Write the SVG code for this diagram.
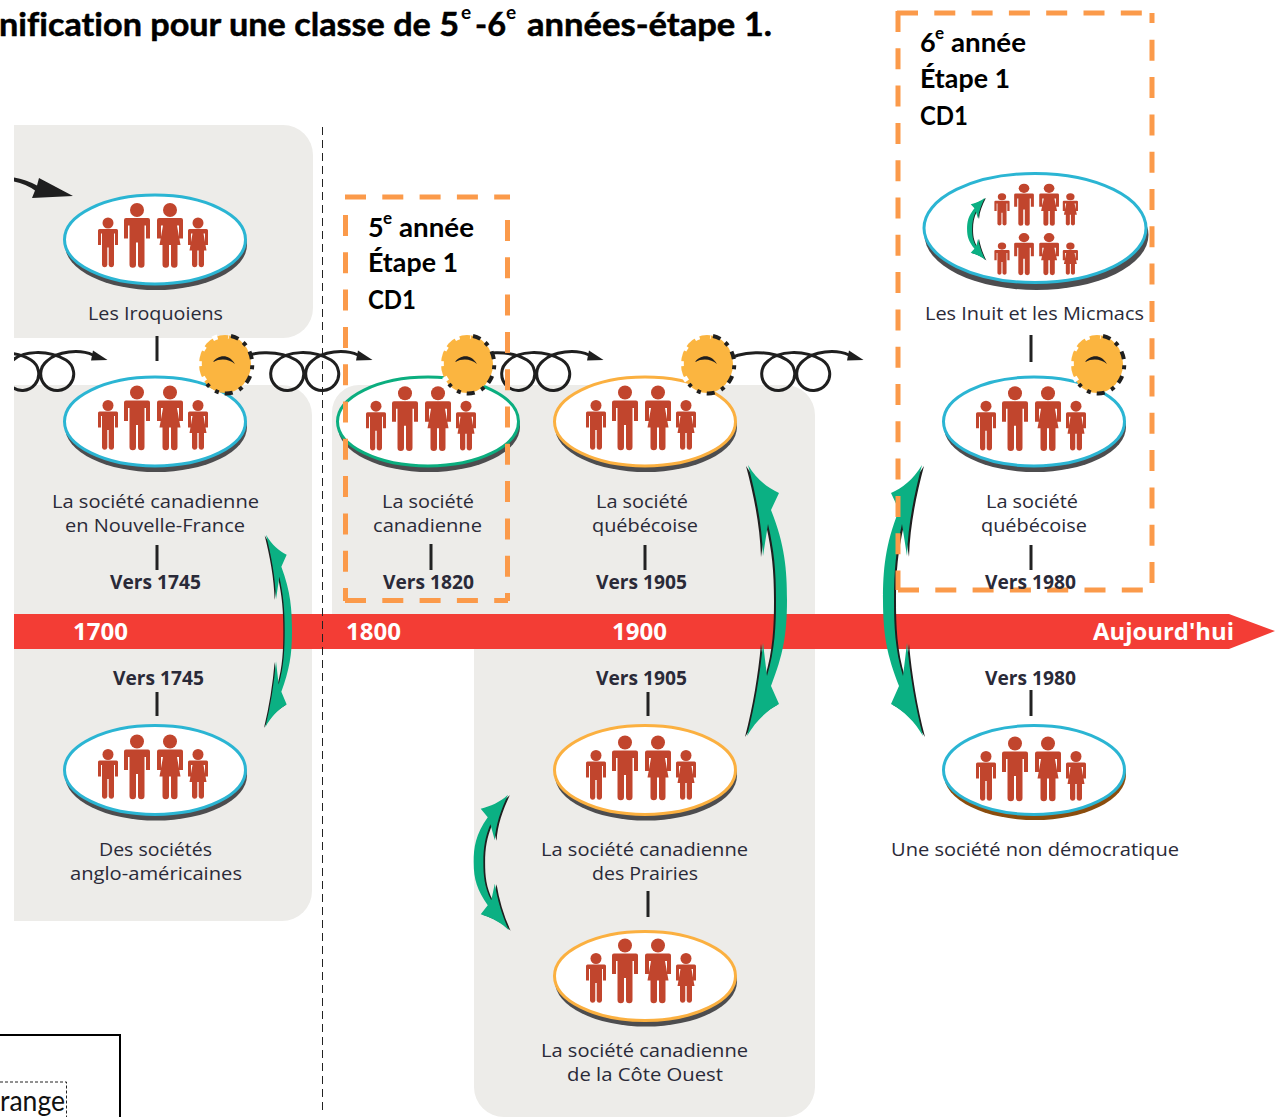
<svg xmlns="http://www.w3.org/2000/svg" width="1275" height="1117" viewBox="0 0 1275 1117">
<style>
text{font-family:"Open Sans","Noto Sans","Liberation Sans",sans-serif;fill:#2a2a38;font-size:19px;font-variant-ligatures:none}
.b{font-weight:700}
.c{font-family:Lato,"Liberation Sans",sans-serif;font-weight:700;fill:#000;font-size:27px}
.t{font-size:33px;stroke:#000;stroke-width:.5px}
.s{font-family:Lato,"Liberation Sans",sans-serif;font-weight:700;fill:#000;font-size:17px}
.st{font-size:19px}
.w{font-weight:700;fill:#fff;font-size:24px}
.tick{stroke:#222;stroke-width:3;fill:none}
.or{fill:none;stroke:#fb9a4a;stroke-width:5;stroke-dasharray:21 16.3}
.loop{fill:none;stroke:#1f1f1f;stroke-width:3}
.sh{fill:#4d4d4f}
.e{fill:#fff;stroke-width:3}
.bl{stroke:#2bb5d3}.ye{stroke:#fbb040}.gr{stroke:#0bae7f}
.pn{fill:#edece9}
.p{fill:#c1452d}
.ar{fill:#0bb083}
.as{fill:#1f1f1f}
</style>
<defs>
<g id="fam" class="p">
<circle cx="-47" cy="-16.5" r="5.5"/>
<path transform="translate(-47,0)" d="M-8.5,-10.5H8.5A1.5,1.5 0 0 1 10,-9V5.5H7V-6H6V25.5A2.7,2.7 0 0 1 .7,25.5V8H-.7V25.5A2.7,2.7 0 0 1 -6,25.5V-6H-7V5.5H-10V-9A1.5,1.5 0 0 1 -8.5,-10.5Z"/>
<circle cx="-18" cy="-29.5" r="7"/>
<path transform="translate(-18,0)" d="M-11,-21.5H11A2,2 0 0 1 13,-19.5V-1H9V-14H7.5V25A3,3 0 0 1 1,25V3H-1V25A3,3 0 0 1 -7.5,25V-14H-9V-1H-13V-19.5A2,2 0 0 1 -11,-21.5Z"/>
<circle cx="15" cy="-29.5" r="7"/>
<path transform="translate(15,0)" d="M-11,-21.5H11A2,2 0 0 1 13,-19.5V-1H9V-14H7L10.5,5.5H7.5V25A3,3 0 0 1 1,25V5.5H-1V25A3,3 0 0 1 -7.5,25V5.5H-10.5L-7,-14H-9V-1H-13V-19.5A2,2 0 0 1 -11,-21.5Z"/>
<circle cx="43" cy="-16.5" r="5.5"/>
<path transform="translate(43,0)" d="M-8.5,-10.5H8.5A1.5,1.5 0 0 1 10,-9V5.5H7V-6H5.5L8.5,11H6V25.5A2.7,2.7 0 0 1 .7,25.5V11H-.7V25.5A2.7,2.7 0 0 1 -6,25.5V11H-8.5L-5.5,-6H-7V5.5H-10V-9A1.5,1.5 0 0 1 -8.5,-10.5Z"/>
</g>
<g id="gear">
<ellipse rx="26" ry="29" fill="#fbb540"/>
<path d="M-20,17A24.500,27.500 0 0 1 4,-27.500" fill="none" stroke="#fff" stroke-width="5" stroke-dasharray="5 11"/>
<path transform="translate(2,1)" d="M4,-29A26,29 0 1 1 -20,19" fill="none" stroke="#1f1f1f" stroke-width="4" stroke-dasharray="8 6 4 7"/>
<path d="M-12,-2C-8,-8 3,-12 10,0C4,-5 -4,-6 -12,-2Z" fill="#1f1f1f"/>
</g>
<g id="coil">
<path class="loop" d="M232,362C250,350 280,350 296,360A16.500,16.500 0 1 1 277,361C287,351 312,349 331,360A16.500,16.500 0 1 1 312,361C322,351 345,349 358,355"/>
<path d="M358,350.500L372.500,360L356,360.500Z" fill="#1f1f1f"/>
</g>
<g id="arrow">
<path class="as" transform="translate(-2,1)" d="M748,465C757,480 768,488 779,493L771,510C785,545 787,570 787,600C787,635 783,655 771,686L779,704C766,711 755,722 747,736C755,705 760,675 763,643L767,676C775,650 776,625 776,600C776,570 774,550 768,524L763,556C762,525 756,495 748,465Z"/>
<path class="ar" d="M748,465C757,480 768,488 779,493L771,510C785,545 787,570 787,600C787,635 783,655 771,686L779,704C766,711 755,722 747,736C755,705 760,675 763,643L767,676C775,650 776,625 776,600C776,570 774,550 768,524L763,556C762,525 756,495 748,465Z"/>
</g>
<clipPath id="cl"><rect x="14" y="330" width="400" height="70"/></clipPath>
</defs>

<rect width="1275" height="1117" fill="#fff"/>

<g id="panels">
<path class="pn" d="M14,125H283A30,30 0 0 1 313,155V308A30,30 0 0 1 283,338H14Z"/>
<path class="pn" d="M14,385H282A30,30 0 0 1 312,415V891A30,30 0 0 1 282,921H14Z"/>
<path class="pn" d="M332,614V412A27,27 0 0 1 359,385H785A30,30 0 0 1 815,415V1087A30,30 0 0 1 785,1117H504A30,30 0 0 1 474,1087V614Z"/>
</g>

<g id="timeline">
<path d="M14,614H1229L1275,631L1229,649H14Z" fill="#f33d35"/>
<text class="w" x="73" y="640" textLength="55" lengthAdjust="spacingAndGlyphs">1700</text>
<text class="w" x="346" y="640" textLength="55" lengthAdjust="spacingAndGlyphs">1800</text>
<text class="w" x="612" y="640" textLength="55" lengthAdjust="spacingAndGlyphs">1900</text>
<text class="w" x="1093" y="640" textLength="141" lengthAdjust="spacingAndGlyphs">Aujourd'hui</text>
</g>

<path id="divider" d="M322.500,127V1112" fill="none" stroke="#222" stroke-width="1" stroke-dasharray="8 5"/>

<g id="connectors">
<g clip-path="url(#cl)"><use href="#coil" x="-265"/></g>
<use href="#coil"/>
<use href="#coil" x="231"/>
<use href="#coil" x="491"/>
<path class="tick" d="M157,336V361M157,545V570M157,692V716M431,544V570M645,545V570M648,692V716M648,891V917M1031,335V362M1031,545V570M1031,690V716"/>
<path d="M14,181.500Q26,184 35,190.500L32,198L73,196L39,178L37,185.500Q26,179.500 14,177.500Z" fill="#1f1f1f"/>
<use href="#arrow" transform="translate(266,631) scale(.667,.71) translate(-748,-600.500)"/>
<use href="#arrow"/>
<use href="#arrow" transform="translate(1670,0) scale(-1,1)"/>
<use href="#arrow" transform="translate(508,862.500) scale(-.88,.5) translate(-748,-600.500)"/>
</g>

<g id="n-iroquoiens"><ellipse class="sh" cx="156" cy="245" rx="91" ry="45"/><ellipse class="e bl" cx="155" cy="239.500" rx="90.500" ry="44.500"/><use href="#fam" x="155" y="239.500"/>
<text x="88" y="320" textLength="135" lengthAdjust="spacingAndGlyphs">Les Iroquoiens</text></g>

<g id="n-nouvelle-france"><ellipse class="sh" cx="156" cy="427" rx="91" ry="45"/><ellipse class="e bl" cx="155" cy="421.500" rx="90.500" ry="44.500"/><use href="#fam" x="155" y="422"/>
<text x="52" y="508" textLength="207" lengthAdjust="spacingAndGlyphs">La société canadienne</text>
<text x="65" y="532" textLength="180" lengthAdjust="spacingAndGlyphs">en Nouvelle-France</text>
<text class="b" x="110" y="589" textLength="91" lengthAdjust="spacingAndGlyphs">Vers 1745</text></g>

<g id="n-anglo"><text class="b" x="113" y="685" textLength="91" lengthAdjust="spacingAndGlyphs">Vers 1745</text>
<ellipse class="sh" cx="156" cy="775.500" rx="91" ry="45"/><ellipse class="e bl" cx="155" cy="770" rx="90.500" ry="44.500"/><use href="#fam" x="155" y="771"/>
<text x="99" y="856" textLength="113" lengthAdjust="spacingAndGlyphs">Des sociétés</text>
<text x="70" y="880" textLength="172" lengthAdjust="spacingAndGlyphs">anglo-américaines</text></g>

<g id="n-canadienne"><ellipse class="sh" cx="429" cy="427" rx="91" ry="45"/><ellipse class="e gr" cx="428" cy="421.500" rx="90.500" ry="44.500"/><use href="#fam" x="423" y="422.700"/>
<text x="382" y="508" textLength="92" lengthAdjust="spacingAndGlyphs">La société</text>
<text x="373" y="532" textLength="109" lengthAdjust="spacingAndGlyphs">canadienne</text>
<text class="b" x="383" y="589" textLength="91" lengthAdjust="spacingAndGlyphs">Vers 1820</text></g>

<g id="n-quebecoise-1905"><ellipse class="sh" cx="646" cy="427" rx="91" ry="45"/><ellipse class="e ye" cx="645" cy="421.500" rx="90.500" ry="44.500"/><use href="#fam" x="643" y="422"/>
<text x="596" y="508" textLength="92" lengthAdjust="spacingAndGlyphs">La société</text>
<text x="592" y="532" textLength="106" lengthAdjust="spacingAndGlyphs">québécoise</text>
<text class="b" x="596" y="589" textLength="91" lengthAdjust="spacingAndGlyphs">Vers 1905</text></g>

<g id="n-prairies"><text class="b" x="596" y="685" textLength="91" lengthAdjust="spacingAndGlyphs">Vers 1905</text>
<ellipse class="sh" cx="646" cy="775.500" rx="91" ry="45"/><ellipse class="e ye" cx="645" cy="770" rx="90.500" ry="44.500"/><use href="#fam" x="643" y="772"/>
<text x="541" y="856" textLength="207" lengthAdjust="spacingAndGlyphs">La société canadienne</text>
<text x="592" y="880" textLength="106" lengthAdjust="spacingAndGlyphs">des Prairies</text></g>

<g id="n-cote-ouest"><ellipse class="sh" cx="646" cy="981.500" rx="91" ry="45"/><ellipse class="e ye" cx="645" cy="976" rx="90.500" ry="44.500"/><use href="#fam" x="643" y="975"/>
<text x="541" y="1057" textLength="207" lengthAdjust="spacingAndGlyphs">La société canadienne</text>
<text x="567" y="1081" textLength="156" lengthAdjust="spacingAndGlyphs">de la Côte Ouest</text></g>

<g id="n-inuit"><ellipse class="sh" cx="1036.500" cy="235" rx="112" ry="55"/><ellipse class="e bl" cx="1035" cy="228" rx="111" ry="54.500"/>
<use href="#fam" transform="translate(1037.700,207.500) scale(.76,.65)"/>
<use href="#fam" transform="translate(1037.700,256.800) scale(.76,.65)"/>
<use href="#arrow" transform="translate(985,229) scale(-.46,.23) translate(-748,-600.500)"/>
<text x="925" y="320" textLength="219" lengthAdjust="spacingAndGlyphs">Les Inuit et les Micmacs</text></g>

<g id="n-quebecoise-1980"><ellipse class="sh" cx="1035" cy="427" rx="91" ry="45"/><ellipse class="e bl" cx="1034" cy="421.500" rx="90.500" ry="44.500"/><use href="#fam" x="1033" y="422.700"/>
<text x="986" y="508" textLength="92" lengthAdjust="spacingAndGlyphs">La société</text>
<text x="981" y="532" textLength="106" lengthAdjust="spacingAndGlyphs">québécoise</text></g>

<g id="n-non-democratique"><text class="b" x="985" y="685" textLength="91" lengthAdjust="spacingAndGlyphs">Vers 1980</text>
<ellipse cx="1035" cy="775" rx="91" ry="45" fill="#8a4d0e"/><ellipse class="e bl" cx="1034" cy="770" rx="90.500" ry="44.500"/><use href="#fam" x="1033" y="773"/>
<text x="891" y="856" textLength="288" lengthAdjust="spacingAndGlyphs">Une société non démocratique</text></g>

<g id="gears">
<use href="#gear" x="225" y="364"/>
<use href="#gear" x="467" y="364"/>
<use href="#gear" x="707" y="364"/>
<use href="#gear" x="1097" y="364"/>
</g>

<g id="box-5e">
<path class="or" d="M345.500,215V601M345,600.500H508M507.500,220V601M345,197H510"/>
<text class="c" x="368" y="237">5</text><text class="s" x="383" y="224">e</text>
<text class="c" x="399" y="237" textLength="75" lengthAdjust="spacingAndGlyphs">année</text>
<text class="c" x="368" y="272" textLength="90" lengthAdjust="spacingAndGlyphs">Étape 1</text>
<text class="c" x="368" y="309" textLength="48" lengthAdjust="spacingAndGlyphs">CD1</text>
</g>

<g id="box-6e">
<path class="or" d="M898,11V590M898,590H1152M1152,13V23M1152,39.800V590M897,13H1154"/>
<text class="c" x="920" y="52">6</text><text class="s" x="935" y="39">e</text>
<text class="c" x="951" y="52" textLength="75" lengthAdjust="spacingAndGlyphs">année</text>
<text class="c" x="920" y="88" textLength="90" lengthAdjust="spacingAndGlyphs">Étape 1</text>
<text class="c" x="920" y="125" textLength="48" lengthAdjust="spacingAndGlyphs">CD1</text>
<text class="b" x="985" y="589" textLength="91" lengthAdjust="spacingAndGlyphs">Vers 1980</text>
</g>

<g id="title">
<text class="c t" x="-1" y="36" textLength="460" lengthAdjust="spacingAndGlyphs">nification pour une classe de 5</text>
<text class="s st" x="461" y="19">e</text>
<text class="c t" x="475" y="36" textLength="31" lengthAdjust="spacingAndGlyphs">-6</text>
<text class="s st" x="506" y="19">e</text>
<text class="c t" x="527" y="36" textLength="245" lengthAdjust="spacingAndGlyphs">années-étape 1.</text>
</g>

<g id="legend">
<path d="M0,1035H120V1117" fill="none" stroke="#000" stroke-width="2"/>
<path d="M0,1082H66.500V1117" fill="none" stroke="#222" stroke-width="1" stroke-dasharray="3 2"/>
<text x="0" y="1111" style="font-family:Lato,'Liberation Sans',sans-serif;font-size:28px;fill:#111" textLength="65" lengthAdjust="spacingAndGlyphs">range</text>
</g>
</svg>
